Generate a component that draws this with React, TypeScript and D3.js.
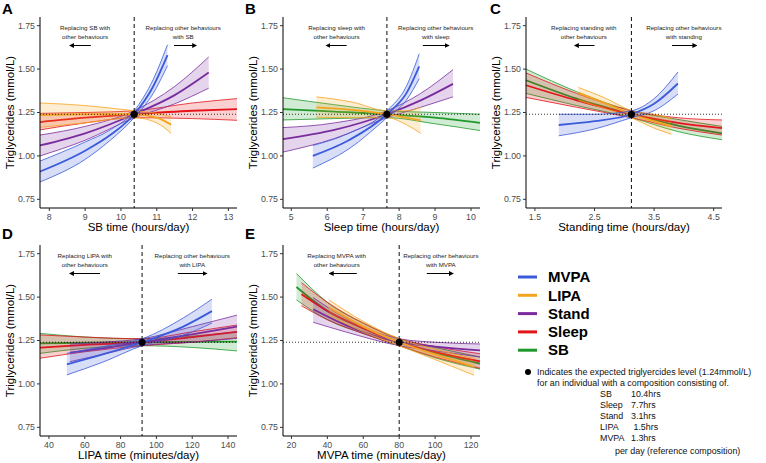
import React from "react";
import * as d3 from "d3";

const colours: Record<string, string> = {
  MVPA: "#3b5bdb",
  LIPA: "#f5a422",
  Stand: "#7a2c9e",
  Sleep: "#e5141b",
  SB: "#1e9a2a",
};
const legendOrder = ["MVPA", "LIPA", "Stand", "Sleep", "SB"];
const drawOrder = ["SB", "Sleep", "Stand", "LIPA", "MVPA"];

const yTicks = [0.75, 1.0, 1.25, 1.5, 1.75];
const refTG = 1.24;

// panel A: SB time (hours/day)
const sbTicks = [8, 9, 10, 11, 12, 13];
const sbRef = 10.37;
const sbMVPA = { x: [7.74, 9.0, 9.7, 10.37, 10.9, 11.3], mean: [0.91, 1.03, 1.12, 1.24, 1.4, 1.58], lo: [0.85, 0.98, 1.09, 1.22, 1.36, 1.52], hi: [0.97, 1.08, 1.15, 1.26, 1.44, 1.64] };
const sbStand = { x: [7.74, 9.0, 10.37, 11.5, 12.45], mean: [1.06, 1.13, 1.24, 1.35, 1.48], lo: [1.0, 1.09, 1.22, 1.3, 1.39], hi: [1.12, 1.17, 1.26, 1.4, 1.57] };
const sbSleep = { x: [7.74, 9.0, 10.37, 12.0, 13.24], mean: [1.195, 1.22, 1.24, 1.26, 1.27], lo: [1.15, 1.19, 1.22, 1.215, 1.205], hi: [1.245, 1.25, 1.26, 1.305, 1.33] };
const sbLIPA = { x: [7.74, 9.0, 10.37, 11.0, 11.4], mean: [1.235, 1.24, 1.24, 1.22, 1.18], lo: [1.165, 1.19, 1.22, 1.19, 1.13], hi: [1.305, 1.29, 1.26, 1.245, 1.225] };

// panel B: Sleep time (hours/day)
const sleepTicks = [5, 6, 7, 8, 9, 10];
const sleepRef = 7.66;
const slSB = { x: [4.77, 6.2, 7.66, 9.0, 10.25], mean: [1.27, 1.255, 1.24, 1.22, 1.19], lo: [1.207, 1.215, 1.22, 1.185, 1.146], hi: [1.335, 1.295, 1.26, 1.25, 1.24] };
const slStand = { x: [4.77, 6.2, 7.66, 8.6, 9.5], mean: [1.097, 1.15, 1.24, 1.32, 1.415], lo: [1.022, 1.1, 1.22, 1.28, 1.34], hi: [1.163, 1.19, 1.26, 1.36, 1.497] };
const slMVPA = { x: [5.6, 6.6, 7.66, 8.2, 8.56], mean: [1.0, 1.09, 1.24, 1.36, 1.516], lo: [0.93, 1.04, 1.22, 1.32, 1.445], hi: [1.06, 1.13, 1.26, 1.4, 1.588] };
const slLIPA = { x: [5.7, 6.7, 7.66, 8.2, 8.6], mean: [1.28, 1.265, 1.24, 1.22, 1.205], lo: [1.222, 1.22, 1.22, 1.18, 1.13], hi: [1.34, 1.31, 1.26, 1.26, 1.28] };

// panel C: Standing time (hours/day)
const standTicks = [1.5, 2.5, 3.5, 4.5];
const standRef = 3.12;
const stMVPA = { x: [1.9, 2.5, 3.12, 3.5, 3.9], mean: [1.178, 1.2, 1.24, 1.3, 1.417], lo: [1.116, 1.155, 1.22, 1.26, 1.356], hi: [1.24, 1.24, 1.26, 1.33, 1.483] };
const stSleep = { x: [1.35, 2.2, 3.12, 3.9, 4.64], mean: [1.407, 1.32, 1.24, 1.19, 1.16], lo: [1.337, 1.28, 1.22, 1.16, 1.12], hi: [1.478, 1.36, 1.26, 1.22, 1.207] };
const stSB = { x: [1.35, 2.2, 3.12, 3.9, 4.64], mean: [1.436, 1.33, 1.24, 1.175, 1.13], lo: [1.36, 1.29, 1.22, 1.14, 1.093], hi: [1.5, 1.37, 1.26, 1.21, 1.17] };
const stLIPA = { x: [2.23, 2.7, 3.12, 3.5, 3.79], mean: [1.363, 1.3, 1.24, 1.2, 1.17], lo: [1.32, 1.27, 1.22, 1.16, 1.125], hi: [1.394, 1.33, 1.26, 1.24, 1.216] };

// panel D: LIPA time (minutes/day)
const lipaTicks = [40, 60, 80, 100, 120, 140];
const lipaRef = 92;
const liMVPA = { x: [50, 70, 92, 115, 131], mean: [1.113, 1.17, 1.24, 1.33, 1.419], lo: [1.052, 1.125, 1.22, 1.28, 1.35], hi: [1.176, 1.215, 1.26, 1.38, 1.488] };
const liStand = { x: [51.7, 70, 92, 120, 145], mean: [1.18, 1.205, 1.24, 1.285, 1.33], lo: [1.128, 1.17, 1.22, 1.24, 1.262], hi: [1.23, 1.24, 1.26, 1.33, 1.396] };
const liSleep = { x: [35, 60, 92, 120, 145], mean: [1.209, 1.225, 1.24, 1.27, 1.3], lo: [1.148, 1.185, 1.22, 1.24, 1.266], hi: [1.282, 1.27, 1.26, 1.3, 1.339] };
const liSB = { x: [35, 60, 92, 120, 145], mean: [1.234, 1.237, 1.24, 1.242, 1.243], lo: [1.176, 1.205, 1.22, 1.21, 1.19], hi: [1.291, 1.27, 1.26, 1.275, 1.3] };

// panel E: MVPA time (minutes/day)
const mvpaTicks = [20, 40, 60, 80, 100, 120];
const mvpaRef = 80;
const mvSB = { x: [22.8, 40, 60, 80, 100, 125], mean: [1.558, 1.42, 1.32, 1.24, 1.18, 1.117], lo: [1.484, 1.37, 1.29, 1.22, 1.15, 1.085], hi: [1.636, 1.47, 1.35, 1.26, 1.21, 1.155] };
const mvSleep = { x: [25.6, 40, 60, 80, 100, 125], mean: [1.516, 1.42, 1.32, 1.24, 1.185, 1.13], lo: [1.45, 1.37, 1.29, 1.22, 1.155, 1.09], hi: [1.583, 1.47, 1.35, 1.26, 1.215, 1.174] };
const mvLIPA = { x: [40.8, 60, 80, 100, 121.7], mean: [1.44, 1.33, 1.24, 1.17, 1.098], lo: [1.396, 1.3, 1.22, 1.14, 1.05], hi: [1.484, 1.36, 1.26, 1.2, 1.146] };
const mvStand = { x: [32.1, 50, 80, 100, 125], mean: [1.43, 1.34, 1.24, 1.215, 1.193], lo: [1.355, 1.3, 1.22, 1.19, 1.155], hi: [1.497, 1.38, 1.26, 1.24, 1.23] };

const refComposition = [
  ["SB", "10.4hrs"],
  ["Sleep", "7.7hrs"],
  ["Stand", "3.1hrs"],
  ["LIPA", " 1.5hrs"],
  ["MVPA", "1.3hrs"],
];

const FONT = "'Liberation Sans', Arial, Helvetica, sans-serif";

type Series = { x: number[]; mean: number[]; lo: number[]; hi: number[] };

const panels = [
  {
    label: "A", lx: 2, ly: 14, x0: 40, x1: 237, y0: 17, y1: 208,
    domain: [7.74, 13.24], ticks: sbTicks, fmt: (d: number) => String(d), ref: sbRef,
    xTitle: "SB time (hours/day)",
    series: { MVPA: sbMVPA, Stand: sbStand, Sleep: sbSleep, LIPA: sbLIPA } as Record<string, Series>,
    left: { text: ["Replacing SB with", "other behaviours"], x: 9.0, arrow: [9.16, 8.58] },
    right: { text: ["Replacing other behaviours", "with SB"], x: 11.74, arrow: [11.48, 12.1] },
  },
  {
    label: "B", lx: 245, ly: 14, x0: 283, x1: 480, y0: 17, y1: 208,
    domain: [4.77, 10.25], ticks: sleepTicks, fmt: (d: number) => String(d), ref: sleepRef,
    xTitle: "Sleep time (hours/day)",
    series: { SB: slSB, Stand: slStand, MVPA: slMVPA, LIPA: slLIPA } as Record<string, Series>,
    left: { text: ["Replacing sleep with", "other behaviours"], x: 6.26, arrow: [6.54, 5.98] },
    right: { text: ["Replacing other behaviours", "with sleep"], x: 9.02, arrow: [8.66, 9.38] },
  },
  {
    label: "C", lx: 490, ly: 14, x0: 526, x1: 722, y0: 17, y1: 208,
    domain: [1.35, 4.64], ticks: standTicks, fmt: (d: number) => d.toFixed(1), ref: standRef,
    xTitle: "Standing time (hours/day)",
    series: { MVPA: stMVPA, Sleep: stSleep, SB: stSB, LIPA: stLIPA } as Record<string, Series>,
    left: { text: ["Replacing standing with", "other behaviours"], x: 2.32, arrow: [2.5, 2.17] },
    right: { text: ["Replacing other behaviours", "with standing"], x: 4.0, arrow: [3.8, 4.21] },
  },
  {
    label: "D", lx: 2, ly: 239, x0: 40, x1: 237, y0: 245, y1: 436,
    domain: [35, 145], ticks: lipaTicks, fmt: (d: number) => String(d), ref: lipaRef,
    xTitle: "LIPA time (minutes/day)",
    series: { MVPA: liMVPA, Stand: liStand, Sleep: liSleep, SB: liSB } as Record<string, Series>,
    left: { text: ["Replacing LIPA with", "other behaviours"], x: 60, arrow: [68.5, 51.7] },
    right: { text: ["Replacing other behaviours", "with LIPA"], x: 120, arrow: [112, 128] },
  },
  {
    label: "E", lx: 245, ly: 239, x0: 283, x1: 480, y0: 245, y1: 436,
    domain: [15.3, 125], ticks: mvpaTicks, fmt: (d: number) => String(d), ref: mvpaRef,
    xTitle: "MVPA time (minutes/day)",
    series: { SB: mvSB, Sleep: mvSleep, LIPA: mvLIPA, Stand: mvStand } as Record<string, Series>,
    left: { text: ["Replacing MVPA with", "other behaviours"], x: 45.2, arrow: [56.4, 41.3] },
    right: { text: ["Replacing other behaviours", "with MVPA"], x: 103.2, arrow: [95.4, 109.9] },
  },
];

const Panel = ({ p }: { p: (typeof panels)[number] }) => {
  const x = d3.scaleLinear().domain(p.domain).range([p.x0, p.x1]);
  const y = d3.scaleLinear().domain([0.7, 1.8]).range([p.y1, p.y0]);

  const area = d3.area<number>().curve(d3.curveMonotoneX);
  const line = d3.line<[number, number]>().curve(d3.curveMonotoneX);

  const names = drawOrder.filter((n) => p.series[n]);

  return (
    <g>
      <text x={p.lx} y={p.ly} fontSize={15} fontWeight="bold" fontFamily={FONT}>{p.label}</text>

      {/* bands and lines */}
      {names.map((n) => {
        const s = p.series[n];
        const idx = s.x.map((_, i) => i);
        const band = area
          .x((i) => x(s.x[i]))
          .y0((i) => y(s.lo[i]))
          .y1((i) => y(s.hi[i]))(idx) as string;
        const pts = (arr: number[]) => s.x.map((v, i) => [x(v), y(arr[i])] as [number, number]);
        return (
          <g key={n}>
            <path d={band} fill={colours[n]} fillOpacity={0.2} stroke="none" />
            <path d={line(pts(s.lo)) as string} fill="none" stroke={colours[n]} strokeWidth={0.8} />
            <path d={line(pts(s.hi)) as string} fill="none" stroke={colours[n]} strokeWidth={0.8} />
            <path d={line(pts(s.mean)) as string} fill="none" stroke={colours[n]} strokeWidth={1.8} />
          </g>
        );
      })}

      {/* reference lines */}
      <line x1={p.x0} x2={p.x1} y1={y(refTG)} y2={y(refTG)} stroke="#000" strokeWidth={0.8} strokeDasharray="1,2" />
      <line x1={x(p.ref)} x2={x(p.ref)} y1={p.y0} y2={p.y1} stroke="#222" strokeWidth={1.1} strokeDasharray="4,3" />
      <circle cx={x(p.ref)} cy={y(refTG)} r={3.6} fill="#000" />

      {/* annotations */}
      {[p.left, p.right].map((a, k) => (
        <g key={k}>
          {a.text.map((t, j) => (
            <text key={j} x={x(a.x)} y={p.y0 + 13 + j * 8.8} fontSize={6.2} textAnchor="middle" fontFamily={FONT} fill="#222">{t}</text>
          ))}
          <line x1={x(a.arrow[0])} x2={x(a.arrow[1])} y1={p.y0 + 28.5} y2={p.y0 + 28.5} stroke="#000" strokeWidth={1} markerEnd="url(#arrowHead)" />
        </g>
      ))}

      {/* axes */}
      <line x1={p.x0} x2={p.x0} y1={p.y0} y2={p.y1} stroke="#000" strokeWidth={1} />
      <line x1={p.x0} x2={p.x1} y1={p.y1} y2={p.y1} stroke="#000" strokeWidth={1} />
      {yTicks.map((t) => (
        <g key={t} transform={`translate(${p.x0}, ${y(t)})`}>
          <line x1={-3} x2={0} stroke="#333" />
          <text x={-5} dy="0.32em" fontSize={8.8} textAnchor="end" fill="#4d4d4d" fontFamily={FONT}>{t.toFixed(2)}</text>
        </g>
      ))}
      {p.ticks.map((t) => (
        <g key={t} transform={`translate(${x(t)}, ${p.y1})`}>
          <line y1={0} y2={3} stroke="#333" />
          <text y={12} fontSize={8.8} textAnchor="middle" fill="#4d4d4d" fontFamily={FONT}>{p.fmt(t)}</text>
        </g>
      ))}
      <text x={(p.x0 + p.x1) / 2} y={p.y1 + 23} fontSize={11.5} textAnchor="middle" fontFamily={FONT}>{p.xTitle}</text>
      <text transform={`translate(${p.x0 - 26}, ${(p.y0 + p.y1) / 2}) rotate(-90)`} fontSize={11.5} textAnchor="middle" fontFamily={FONT}>
        Triglycerides (mmol/L)
      </text>
    </g>
  );
};

const App = () => {
  return (
    <svg width={766} height={463} style={{ position: "absolute", left: 0, top: 0, background: "#fff" }}>
      <defs>
        <marker id="arrowHead" viewBox="0 0 10 10" refX={8} refY={5} markerWidth={5} markerHeight={5} orient="auto">
          <path d="M0,0 L10,5 L0,10 z" fill="#000" />
        </marker>
      </defs>
      {panels.map((p) => <Panel key={p.label} p={p} />)}

      {/* legend */}
      {legendOrder.map((n, i) => (
        <g key={n} transform={`translate(518, ${277 + i * 18.3})`}>
          <line x1={0} x2={19} stroke={colours[n]} strokeWidth={3} />
          <text x={30} dy="0.35em" fontSize={15} fontWeight="bold" fontFamily={FONT}>{n}</text>
        </g>
      ))}

      <circle cx={528} cy={372} r={3} fill="#000" />
      <g fontFamily={FONT} fontSize={8.9} fill="#111">
        <text x={537} y={375}>Indicates the expected triglyercides level (1.24mmol/L)</text>
        <text x={537} y={386}>for an individual with a composition consisting of.</text>
        {refComposition.map(([k, v], i) => (
          <g key={k}>
            <text x={600} y={397.3 + i * 11}>{k}</text>
            <text x={631} y={397.3 + i * 11} style={{ whiteSpace: "pre" }}>{v}</text>
          </g>
        ))}
        <text x={615} y={453.5}>per day (reference composition)</text>
      </g>
    </svg>
  );
};

export default App;
